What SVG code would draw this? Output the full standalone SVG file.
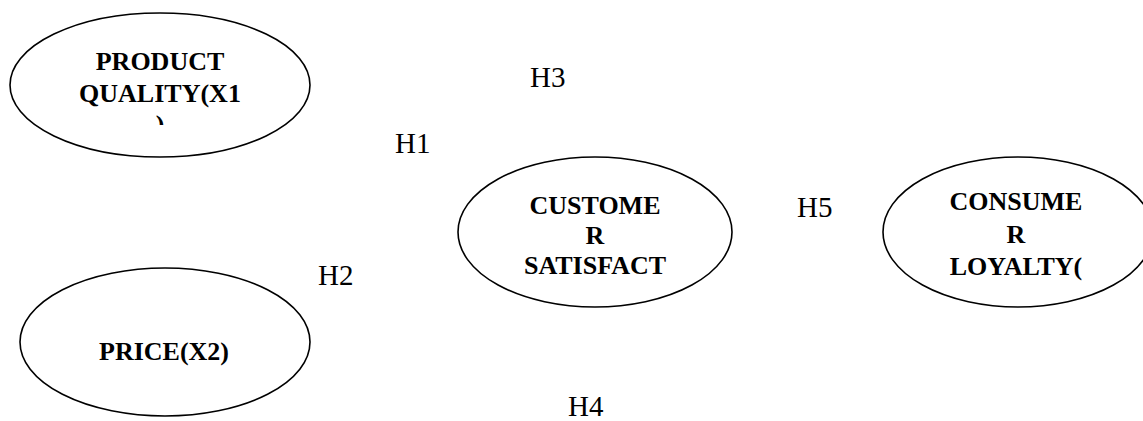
<svg xmlns="http://www.w3.org/2000/svg" width="1143" height="421" viewBox="0 0 1143 421">
  <style>
    .node ellipse { fill: #ffffff; stroke: #000000; stroke-width: 1.6; }
    text { font-family: 'Liberation Serif', Tinos, 'Times New Roman', 'DejaVu Serif', serif; fill: #000000; }
    .lbl { font-weight: bold; font-size: 26px; text-anchor: middle; }
    .hyp { font-size: 29px; }
  </style>
  <defs>
    <!-- text box of the product quality node cuts off its last line -->
    <clipPath id="clip-x1">
      <rect x="0" y="0" width="330" height="125"/>
    </clipPath>
  </defs>
  <rect width="1143" height="421" fill="#ffffff"/>

  <g id="connectors"></g>

  <g id="node-product-quality" class="node">
    <ellipse cx="160" cy="85" rx="150" ry="72"/>
    <g clip-path="url(#clip-x1)">
      <text class="lbl" x="160" y="70">PRODUCT</text>
      <text class="lbl" x="160" y="102">QUALITY(X1</text>
      <text class="lbl" x="160" y="133">)</text>
    </g>
  </g>

  <g id="node-price" class="node">
    <ellipse cx="165" cy="342" rx="145" ry="74"/>
    <text class="lbl" x="164" y="360">PRICE(X2)</text>
  </g>

  <g id="node-customer-satisfaction" class="node">
    <ellipse cx="595" cy="232" rx="137" ry="75"/>
    <text class="lbl" x="595" y="214">CUSTOME</text>
    <text class="lbl" x="595" y="244">R</text>
    <text class="lbl" x="595" y="274">SATISFACT</text>
  </g>

  <g id="node-consumer-loyalty" class="node">
    <ellipse cx="1018" cy="232" rx="135" ry="75"/>
    <text class="lbl" x="1016" y="210">CONSUME</text>
    <text class="lbl" x="1016" y="243">R</text>
    <text class="lbl" x="1016" y="275">LOYALTY(</text>
  </g>

  <g id="hypotheses">
    <text class="hyp" x="530" y="87">H3</text>
    <text class="hyp" x="395" y="153">H1</text>
    <text class="hyp" x="797" y="217">H5</text>
    <text class="hyp" x="318" y="285">H2</text>
    <text class="hyp" x="568" y="416">H4</text>
  </g>
</svg>
